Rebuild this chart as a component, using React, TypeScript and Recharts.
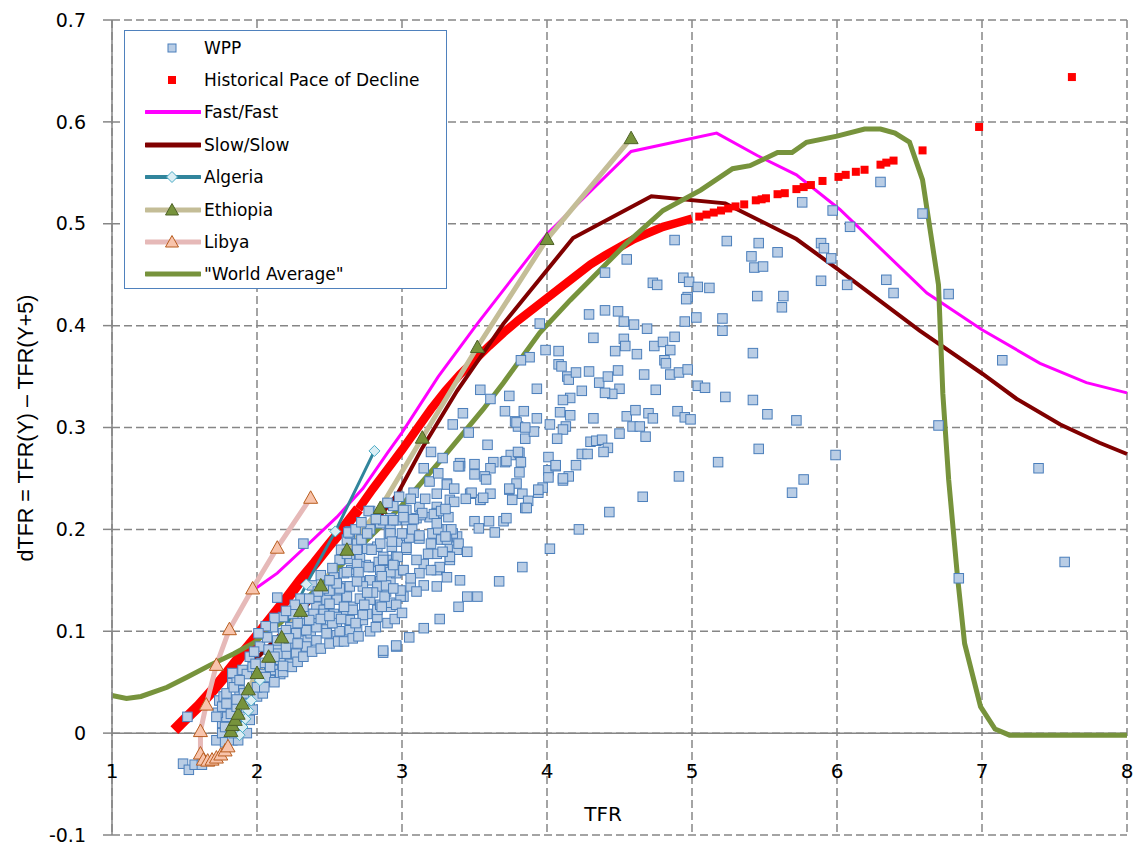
import React from "react";
import {
  ComposedChart,
  Line,
  Scatter,
  XAxis,
  YAxis,
  CartesianGrid,
  ReferenceLine,
} from "recharts";

type Pt = [number, number];

const xTicks = [1, 2, 3, 4, 5, 6, 7, 8];
const yTicks = [-0.1, 0, 0.1, 0.2, 0.3, 0.4, 0.5, 0.6, 0.7];

// WPP country observations (TFR, dTFR)
const wppPoints: Pt[] = [
  [1.49, -0.03], [1.53, -0.036], [1.57, -0.031], [1.62, -0.031], [1.52, 0.016],
  [1.72, -0.007], [1.76, 0.0], [1.78, -0.009], [1.83, -0.007], [1.81, 0.006],
  [1.76, 0.01], [1.79, 0.016], [1.73, 0.02], [1.74, 0.032], [1.78, 0.006],
  [1.72, 0.016], [1.76, 0.026], [1.77, 0.036], [1.79, 0.029], [1.82, 0.019],
  [1.86, 0.026], [1.88, 0.01], [1.92, 0.016], [1.95, 0.013], [1.93, 0.0],
  [1.87, -0.007], [1.84, 0.0], [1.79, 0.039], [1.83, 0.049], [1.86, 0.052],
  [1.88, 0.042], [1.84, 0.045], [1.91, 0.039], [1.86, 0.033], [1.9, 0.062],
  [1.83, 0.059], [1.95, 0.029], [1.97, 0.023], [2.0, 0.036], [2.04, 0.039],
  [2.02, 0.049], [2.04, 0.058], [2.09, 0.052], [2.0, 0.045], [1.97, 0.062],
  [2.03, 0.069], [2.1, 0.065], [2.11, 0.062], [2.16, 0.058], [1.93, 0.058],
  [1.88, 0.052], [1.97, 0.065], [1.95, 0.075], [2.02, 0.085], [2.07, 0.094],
  [2.11, 0.104], [2.14, 0.084], [2.16, 0.072], [2.23, 0.068], [2.2, 0.078],
  [2.27, 0.078], [2.25, 0.088], [2.14, 0.091], [2.18, 0.098], [2.23, 0.104],
  [2.3, 0.1], [2.35, 0.091], [2.37, 0.098], [2.41, 0.108], [2.48, 0.104],
  [2.3, 0.111], [2.34, 0.117], [2.41, 0.124], [2.48, 0.134], [2.55, 0.137],
  [2.62, 0.144], [2.14, 0.133], [2.32, 0.186], [1.99, 0.068], [2.09, 0.065],
  [2.06, 0.055], [2.14, 0.078], [2.2, 0.085], [2.34, 0.085], [2.41, 0.091],
  [2.48, 0.098], [2.55, 0.096], [2.62, 0.098], [2.69, 0.101], [2.73, 0.111],
  [2.64, 0.111], [2.55, 0.108], [2.48, 0.111], [2.41, 0.104], [2.34, 0.101],
  [2.27, 0.098], [2.2, 0.101], [2.18, 0.114], [2.25, 0.117], [2.32, 0.124],
  [2.39, 0.117], [2.46, 0.121], [2.53, 0.117], [2.6, 0.121], [2.66, 0.124],
  [2.76, 0.117], [2.83, 0.114], [2.78, 0.131], [2.71, 0.132], [2.62, 0.134],
  [2.55, 0.131], [2.48, 0.131], [2.41, 0.134], [2.5, 0.14], [2.57, 0.142],
  [2.64, 0.144], [2.71, 0.149], [2.78, 0.15], [2.85, 0.149], [2.92, 0.15],
  [2.96, 0.157], [2.87, 0.16], [2.8, 0.163], [2.75, 0.165], [2.65, 0.16],
  [2.6, 0.157], [2.53, 0.153], [2.57, 0.17], [2.64, 0.171], [2.71, 0.173],
  [2.84, 0.168], [2.91, 0.17], [2.96, 0.173], [2.83, 0.183], [2.76, 0.181],
  [2.69, 0.186], [2.62, 0.19], [2.64, 0.196], [2.78, 0.2], [2.92, 0.2],
  [2.96, 0.209], [3.03, 0.219], [3.1, 0.211], [3.19, 0.212], [3.24, 0.222],
  [3.33, 0.229], [3.47, 0.235], [3.54, 0.229], [3.61, 0.235], [3.03, 0.19],
  [3.12, 0.191], [3.22, 0.196], [3.31, 0.2], [3.38, 0.193], [3.33, 0.183],
  [3.24, 0.176], [3.15, 0.166], [3.24, 0.16], [3.31, 0.153], [3.4, 0.15],
  [3.45, 0.134], [3.24, 0.144], [3.06, 0.144], [3.01, 0.134], [2.92, 0.124],
  [2.83, 0.121], [2.87, 0.079], [2.96, 0.085], [3.05, 0.094], [3.15, 0.103],
  [3.26, 0.112], [3.39, 0.124], [3.52, 0.134], [3.67, 0.149], [3.83, 0.163],
  [4.02, 0.181], [4.22, 0.2], [4.43, 0.217], [4.66, 0.232], [4.91, 0.252],
  [5.18, 0.266], [5.46, 0.279], [2.64, 0.101], [2.57, 0.1], [2.73, 0.116],
  [2.85, 0.126], [2.92, 0.128], [2.99, 0.134], [2.89, 0.139], [2.83, 0.144],
  [2.73, 0.144], [2.69, 0.149], [2.55, 0.147], [2.62, 0.158], [2.69, 0.166],
  [2.77, 0.163], [2.85, 0.16], [2.92, 0.158], [3.01, 0.16], [2.95, 0.166],
  [2.87, 0.173], [3.03, 0.18], [2.97, 0.188], [2.91, 0.196], [2.85, 0.186],
  [2.79, 0.18], [2.72, 0.19], [2.64, 0.198], [3.03, 0.194], [3.03, 0.209],
  [3.01, 0.219], [2.78, 0.218], [2.85, 0.206], [2.92, 0.211], [2.69, 0.18],
  [2.76, 0.196], [2.63, 0.197], [2.77, 0.218], [2.94, 0.223], [3.12, 0.222],
  [3.13, 0.214], [3.01, 0.212], [3.24, 0.216], [3.21, 0.196], [3.05, 0.192],
  [2.97, 0.173], [3.27, 0.19], [3.35, 0.196], [2.66, 0.121], [2.6, 0.124],
  [2.5, 0.127], [2.46, 0.117], [2.55, 0.114], [2.64, 0.111], [2.87, 0.081],
  [2.96, 0.086], [2.87, 0.17], [2.94, 0.165], [3.01, 0.16], [3.12, 0.157],
  [3.15, 0.145], [3.1, 0.139], [2.99, 0.14], [2.89, 0.145], [2.86, 0.124],
  [2.96, 0.126], [3.03, 0.182], [3.07, 0.2], [3.12, 0.194], [3.22, 0.215],
  [3.25, 0.2], [3.31, 0.19], [3.38, 0.18], [3.33, 0.17], [3.26, 0.163],
  [3.2, 0.16], [2.92, 0.196], [2.93, 0.183], [2.87, 0.209], [2.94, 0.209],
  [3.08, 0.236], [3.14, 0.216], [3.19, 0.247], [3.31, 0.245], [3.4, 0.265],
  [3.2, 0.276], [3.28, 0.27], [3.4, 0.262], [3.5, 0.264], [3.63, 0.266],
  [3.71, 0.266], [3.75, 0.273], [3.81, 0.275], [3.82, 0.266], [3.81, 0.256],
  [3.79, 0.245], [3.74, 0.239], [3.83, 0.235], [3.94, 0.236], [3.87, 0.228],
  [3.85, 0.221], [4.01, 0.271], [4.01, 0.258], [4.01, 0.251], [4.06, 0.262],
  [4.11, 0.248], [4.15, 0.252], [3.97, 0.241], [3.76, 0.229], [3.61, 0.26],
  [3.57, 0.252], [3.54, 0.229], [3.56, 0.231], [3.48, 0.236], [3.44, 0.23],
  [3.58, 0.249], [3.5, 0.254], [3.39, 0.262], [3.31, 0.244], [3.36, 0.227],
  [3.27, 0.218], [3.24, 0.206], [3.32, 0.212], [3.34, 0.2], [3.3, 0.193],
  [3.33, 0.173], [3.28, 0.178], [3.39, 0.186], [3.45, 0.178], [3.5, 0.208],
  [3.53, 0.201], [3.6, 0.208], [3.64, 0.197], [3.7, 0.208], [3.72, 0.211],
  [3.86, 0.221], [3.74, 0.24], [3.72, 0.267], [3.8, 0.276], [3.85, 0.289],
  [3.91, 0.296], [3.78, 0.306], [3.8, 0.301], [3.42, 0.314], [3.35, 0.303],
  [3.46, 0.295], [3.59, 0.283], [3.54, 0.337], [3.61, 0.328], [3.71, 0.316],
  [3.74, 0.331], [3.84, 0.316], [3.79, 0.305], [3.85, 0.3], [3.93, 0.309],
  [3.93, 0.338], [3.95, 0.402], [3.88, 0.369], [3.82, 0.366], [3.99, 0.376],
  [4.08, 0.375], [4.08, 0.362], [4.1, 0.36], [4.14, 0.35], [4.15, 0.347],
  [4.2, 0.354], [4.29, 0.355], [4.36, 0.344], [4.42, 0.35], [4.49, 0.356],
  [4.67, 0.352], [4.85, 0.352], [4.91, 0.354], [4.97, 0.357], [4.75, 0.337],
  [4.5, 0.338], [4.45, 0.333], [4.4, 0.334], [4.24, 0.336], [4.16, 0.329],
  [4.11, 0.327], [4.09, 0.315], [4.16, 0.312], [4.13, 0.301], [4.11, 0.298],
  [4.02, 0.303], [4.07, 0.289], [4.32, 0.309], [4.5, 0.294], [4.55, 0.311],
  [4.61, 0.317], [4.7, 0.314], [4.73, 0.309], [4.9, 0.316], [4.95, 0.31],
  [4.99, 0.308], [4.59, 0.301], [4.64, 0.301], [4.68, 0.291], [4.3, 0.286],
  [4.34, 0.287], [4.38, 0.288], [4.42, 0.28], [4.39, 0.276], [4.24, 0.274],
  [4.28, 0.274], [4.2, 0.263], [4.06, 0.263], [4.11, 0.25], [3.94, 0.239],
  [4.29, 0.411], [4.4, 0.415], [4.49, 0.414], [4.53, 0.404], [4.6, 0.401],
  [4.69, 0.397], [4.95, 0.404], [5.03, 0.408], [5.21, 0.407], [5.21, 0.395],
  [4.32, 0.388], [4.53, 0.387], [4.54, 0.38], [4.47, 0.375], [4.74, 0.38],
  [4.8, 0.384], [4.88, 0.389], [4.85, 0.376], [4.62, 0.372], [4.81, 0.366],
  [4.82, 0.363], [5.42, 0.373], [5.04, 0.341], [5.09, 0.339], [5.23, 0.33],
  [5.42, 0.327], [5.52, 0.313], [5.72, 0.307], [5.69, 0.236], [5.77, 0.249],
  [4.88, 0.484], [5.24, 0.483], [5.46, 0.481], [5.59, 0.472], [5.41, 0.468],
  [5.43, 0.457], [5.49, 0.458], [4.55, 0.465], [4.4, 0.452], [4.73, 0.442],
  [4.76, 0.44], [4.94, 0.447], [4.98, 0.443], [5.04, 0.438], [5.12, 0.437],
  [4.97, 0.428], [4.96, 0.426], [5.45, 0.429], [5.63, 0.429], [5.62, 0.418],
  [6.3, 0.541], [5.76, 0.521], [5.97, 0.513], [6.09, 0.497], [6.59, 0.51],
  [5.89, 0.481], [5.91, 0.476], [5.96, 0.466], [5.89, 0.444], [6.07, 0.44],
  [6.34, 0.445], [6.39, 0.432], [6.77, 0.431], [7.14, 0.366], [6.7, 0.302],
  [5.99, 0.273], [7.39, 0.26], [7.57, 0.168], [6.84, 0.152],
  [2.05, 0.045], [2.12, 0.05], [2.18, 0.06], [2.24, 0.065], [2.28, 0.07],
  [2.32, 0.075], [2.38, 0.08], [2.44, 0.083], [2.5, 0.088], [2.56, 0.09],
  [2.6, 0.09], [2.66, 0.093], [2.7, 0.095], [2.78, 0.1], [2.82, 0.104],
  [2.9, 0.108], [2.95, 0.112], [3.0, 0.118], [2.22, 0.093], [2.28, 0.108],
  [2.36, 0.111], [2.44, 0.112], [2.52, 0.108], [2.58, 0.112], [2.68, 0.108],
  [2.74, 0.126], [2.8, 0.138], [2.88, 0.134], [2.94, 0.142], [3.06, 0.152],
  [3.1, 0.17], [3.18, 0.176], [3.2, 0.186], [2.46, 0.142], [2.52, 0.162],
  [2.58, 0.18], [2.68, 0.2], [2.72, 0.207], [2.82, 0.21], [2.9, 0.226],
  [2.98, 0.232], [3.06, 0.23], [2.44, 0.155], [2.38, 0.145], [2.3, 0.132],
  [2.26, 0.126], [2.2, 0.12], [2.12, 0.113], [2.06, 0.105], [2.01, 0.098],
  [1.98, 0.08], [2.08, 0.082], [2.12, 0.075], [2.18, 0.066], [2.28, 0.088],
  [2.5, 0.115], [2.42, 0.139], [2.36, 0.132], [2.62, 0.176], [2.5, 0.15],
  [2.7, 0.158], [2.76, 0.138], [2.86, 0.154], [2.93, 0.188], [3.0, 0.196],
  [3.08, 0.21], [3.16, 0.23], [3.24, 0.235], [3.3, 0.22], [3.36, 0.24],
  [3.15, 0.26], [3.25, 0.255],
];

// Historical pace of decline: the dense run, then the separate points
const histLow: Pt[] = [
  [1.43, 0.003], [1.5, 0.013], [1.6, 0.027], [1.7, 0.043], [1.8, 0.06],
  [1.9, 0.078], [2.0, 0.095], [2.1, 0.113], [2.2, 0.131], [2.3, 0.15],
  [2.4, 0.167], [2.5, 0.185], [2.6, 0.202], [2.7, 0.22],
];
const histHigh: Pt[] = [
  [2.7, 0.22], [2.8, 0.24], [2.9, 0.259], [3.0, 0.278], [3.1, 0.298],
  [3.2, 0.318], [3.3, 0.336], [3.4, 0.352], [3.5, 0.366], [3.6, 0.38],
  [3.7, 0.393], [3.8, 0.405], [3.9, 0.416], [4.0, 0.427], [4.1, 0.438],
  [4.2, 0.449], [4.3, 0.46], [4.4, 0.469], [4.5, 0.477], [4.6, 0.485],
  [4.7, 0.491], [4.8, 0.497], [4.9, 0.501], [5.0, 0.505],
];
const histPoints: Pt[] = [
  [5.05, 0.507], [5.1, 0.509], [5.15, 0.511], [5.2, 0.513], [5.25, 0.515],
  [5.3, 0.517], [5.36, 0.519], [5.44, 0.523], [5.48, 0.524], [5.51, 0.525],
  [5.59, 0.529], [5.64, 0.53], [5.72, 0.534], [5.77, 0.536], [5.82, 0.538],
  [5.9, 0.542], [6.01, 0.546], [6.06, 0.548], [6.13, 0.551], [6.19, 0.553],
  [6.3, 0.558], [6.34, 0.56], [6.39, 0.562], [6.59, 0.572], [6.98, 0.595],
  [7.62, 0.644],
];

const fastFast: Pt[] = [
  [2.0, 0.143], [2.14, 0.157], [2.32, 0.181], [2.55, 0.212], [2.73, 0.24],
  [2.9, 0.275], [3.0, 0.295], [3.25, 0.35], [3.52, 0.402], [4.0, 0.49],
  [4.58, 0.571], [5.17, 0.589], [5.45, 0.567], [5.72, 0.548], [6.02, 0.514],
  [6.62, 0.432], [7.0, 0.396], [7.4, 0.363], [7.72, 0.344], [8.0, 0.334],
];

const slowSlow: Pt[] = [
  [1.99, 0.072], [2.3, 0.118], [2.62, 0.172], [2.97, 0.235], [3.14, 0.28],
  [3.38, 0.336], [3.7, 0.402], [4.18, 0.486], [4.72, 0.527], [5.23, 0.52],
  [5.47, 0.503], [5.72, 0.485], [6.0, 0.456], [6.57, 0.395], [7.0, 0.353],
  [7.24, 0.328], [7.54, 0.303], [7.81, 0.285], [8.0, 0.274],
];

const algeria: Pt[] = [
  [1.88, -0.002], [1.9, 0.006], [1.92, 0.014], [1.94, 0.022], [1.96, 0.032],
  [2.02, 0.052], [2.34, 0.146], [2.54, 0.198], [2.81, 0.277],
];

const ethiopia: Pt[] = [
  [1.82, 0.002], [1.83, 0.008], [1.85, 0.013], [1.87, 0.019], [1.9, 0.029],
  [1.94, 0.043], [2.0, 0.059], [2.08, 0.075], [2.17, 0.094], [2.3, 0.12],
  [2.44, 0.145], [2.62, 0.18], [2.85, 0.221], [3.14, 0.29], [3.52, 0.379],
  [4.0, 0.485], [4.58, 0.584],
];

const libya: Pt[] = [
  [2.37, 0.231], [2.14, 0.182], [1.97, 0.142], [1.81, 0.102], [1.72, 0.067],
  [1.65, 0.028], [1.61, 0.002], [1.61, -0.02], [1.63, -0.026], [1.66, -0.027],
  [1.69, -0.026], [1.72, -0.024], [1.75, -0.021], [1.78, -0.017], [1.8, -0.013],
];

const worldAverage: Pt[] = [
  [1.0, 0.037], [1.1, 0.034], [1.2, 0.036], [1.38, 0.045], [1.52, 0.055],
  [1.68, 0.067], [1.84, 0.078], [1.97, 0.088], [2.16, 0.108], [2.46, 0.148],
  [2.71, 0.183], [2.99, 0.222], [3.28, 0.27], [3.56, 0.318], [3.7, 0.344],
  [3.95, 0.393], [4.16, 0.425], [4.3, 0.445], [4.55, 0.481], [4.8, 0.513],
  [5.06, 0.533], [5.28, 0.554], [5.4, 0.557], [5.59, 0.57], [5.69, 0.57],
  [5.79, 0.58], [6.0, 0.586], [6.19, 0.593], [6.3, 0.593], [6.4, 0.589],
  [6.5, 0.58], [6.59, 0.543], [6.7, 0.44], [6.73, 0.333], [6.77, 0.249],
  [6.83, 0.155], [6.88, 0.088], [6.99, 0.026], [7.09, 0.004], [7.19, -0.002],
  [8.0, -0.002],
];

const toXY = (arr: Pt[]) => arr.map(([x, y]) => ({ x, y }));

const GRID = "#868686";

const square = (size: number, fill: string, stroke?: string) => (p: any) => (
  <rect
    x={p.cx - size / 2}
    y={p.cy - size / 2}
    width={size}
    height={size}
    fill={fill}
    stroke={stroke || "none"}
    strokeWidth={1}
  />
);

const triangle = (fill: string, stroke: string) => (p: any) => (
  <path
    key={`t-${p.index}`}
    d={`M${p.cx},${p.cy - 7} L${p.cx + 7},${p.cy + 5.5} L${p.cx - 7},${p.cy + 5.5} Z`}
    fill={fill}
    stroke={stroke}
    strokeWidth={1}
  />
);

const diamond = (p: any) => (
  <path
    key={`d-${p.index}`}
    d={`M${p.cx},${p.cy - 5.5} L${p.cx + 5.5},${p.cy} L${p.cx},${p.cy + 5.5} L${p.cx - 5.5},${p.cy} Z`}
    fill="#DBEEF4"
    stroke="#4BACC6"
    strokeWidth={1}
  />
);

// x labels sit just under the zero line, not at the bottom of the plot
const XTick = (props: any) => (
  <text
    x={props.x}
    y={props.y - 57}
    textAnchor="middle"
    fontFamily="DejaVu Sans"
    fontSize={20}
    fill="#000"
  >
    {props.payload.value}
  </text>
);

const legendItems = [
  { name: "WPP", kind: "wpp" },
  { name: "Historical Pace of Decline", kind: "hist" },
  { name: "Fast/Fast", kind: "line", color: "#FF00FF", w: 4 },
  { name: "Slow/Slow", kind: "line", color: "#800000", w: 5 },
  { name: "Algeria", kind: "algeria", color: "#31859C", w: 4 },
  { name: "Ethiopia", kind: "ethiopia", color: "#C4BD97", w: 5 },
  { name: "Libya", kind: "libya", color: "#E6B9B8", w: 5 },
  { name: '"World Average"', kind: "line", color: "#77933C", w: 5 },
];

const LegendMarker = ({ item }: { item: any }) => {
  const c = 27;
  return (
    <svg width={56} height={20}>
      {item.color && (
        <line x1={1} y1={10} x2={55} y2={10} stroke={item.color} strokeWidth={item.w} strokeLinecap="round" />
      )}
      {item.kind === "wpp" && (
        <rect x={c - 4} y={6} width={8} height={8} fill="#B9CDE5" stroke="#4A7EBB" />
      )}
      {item.kind === "hist" && <rect x={c - 4} y={6} width={8} height={8} fill="#FF0000" />}
      {item.kind === "algeria" && (
        <path d={`M${c},4.5 L${c + 5.5},10 L${c},15.5 L${c - 5.5},10 Z`} fill="#DBEEF4" stroke="#4BACC6" />
      )}
      {item.kind === "ethiopia" && (
        <path d={`M${c},3.5 L${c + 6.5},15 L${c - 6.5},15 Z`} fill="#77933C" stroke="#4F6228" />
      )}
      {item.kind === "libya" && (
        <path d={`M${c},3.5 L${c + 6.5},15 L${c - 6.5},15 Z`} fill="#F8C4AC" stroke="#B85C1E" />
      )}
    </svg>
  );
};

export default function App() {
  return (
    <div style={{ position: "absolute", left: 0, top: 0, width: 1134, height: 846 }}>
      <ComposedChart
        width={1134}
        height={846}
        margin={{ top: 20, right: 7, bottom: 0, left: 0 }}
      >
        <CartesianGrid stroke={GRID} strokeWidth={1.5} strokeDasharray="8 4" />
        <XAxis
          dataKey="x"
          type="number"
          domain={[1, 8]}
          ticks={xTicks}
          height={11}
          axisLine={false}
          tickLine={false}
          tickSize={0}
          tickMargin={0}
          tick={<XTick />}
          interval={0}
        />
        <YAxis
          dataKey="y"
          type="number"
          domain={[-0.1, 0.7]}
          ticks={yTicks}
          width={112}
          interval={0}
          axisLine={{ stroke: GRID, strokeWidth: 1.5 }}
          tickLine={{ stroke: GRID, strokeWidth: 1.5 }}
          tickSize={9}
          tickMargin={17}
          tick={{ fontFamily: "DejaVu Sans", fontSize: 19, fill: "#000" }}
          tickFormatter={(v: number) => (v === 0 ? "0" : v.toFixed(1))}
        />
        <ReferenceLine y={0} stroke={GRID} strokeWidth={1.5} />
        <Scatter
          name="WPP"
          data={toXY(wppPoints)}
          dataKey="y"
          shape={square(9.5, "#B9CDE5", "#4A7EBB")}
          isAnimationActive={false}
        />
        <Line
          data={toXY(histLow)}
          dataKey="y"
          type="linear"
          stroke="#FF0000"
          strokeWidth={11}
          strokeLinecap="butt"
          dot={false}
          activeDot={false}
          isAnimationActive={false}
        />
        <Line
          data={toXY(histHigh)}
          dataKey="y"
          type="linear"
          stroke="#FF0000"
          strokeWidth={8.5}
          strokeLinecap="butt"
          dot={false}
          activeDot={false}
          isAnimationActive={false}
        />
        <Scatter
          name="Historical Pace of Decline"
          data={toXY(histPoints)}
          dataKey="y"
          shape={square(8, "#FF0000")}
          isAnimationActive={false}
        />
        <Line
          data={toXY(fastFast)}
          dataKey="y"
          type="linear"
          stroke="#FF00FF"
          strokeWidth={3}
          dot={false}
          activeDot={false}
          isAnimationActive={false}
        />
        <Line
          data={toXY(slowSlow)}
          dataKey="y"
          type="linear"
          stroke="#800000"
          strokeWidth={4}
          dot={false}
          activeDot={false}
          isAnimationActive={false}
        />
        <Line
          data={toXY(algeria)}
          dataKey="y"
          type="linear"
          stroke="#31859C"
          strokeWidth={3}
          dot={diamond}
          activeDot={false}
          isAnimationActive={false}
        />
        <Line
          data={toXY(ethiopia)}
          dataKey="y"
          type="linear"
          stroke="#C4BD97"
          strokeWidth={5}
          dot={triangle("#77933C", "#4F6228")}
          activeDot={false}
          isAnimationActive={false}
        />
        <Line
          data={toXY(libya)}
          dataKey="y"
          type="linear"
          stroke="#E6B9B8"
          strokeWidth={5}
          dot={triangle("#F8C4AC", "#B85C1E")}
          activeDot={false}
          isAnimationActive={false}
        />
        <Line
          data={toXY(worldAverage)}
          dataKey="y"
          type="linear"
          stroke="#77933C"
          strokeWidth={5}
          dot={false}
          activeDot={false}
          isAnimationActive={false}
        />
        <text
          x={603}
          y={821}
          textAnchor="middle"
          fontFamily="DejaVu Sans"
          fontSize={20}
          fill="#000"
        >
          TFR
        </text>
        <text
          x={33}
          y={428}
          transform="rotate(-90 33 428)"
          textAnchor="middle"
          fontFamily="Liberation Sans"
          fontSize={21.5}
          fill="#000"
        >
          dTFR = TFR(Y) – TFR(Y+5)
        </text>
      </ComposedChart>

      <div
        style={{
          position: "absolute",
          left: 124,
          top: 30,
          width: 321,
          height: 257,
          background: "#fff",
          border: "1.5px solid #4F81BD",
          fontFamily: "DejaVu Sans",
          fontSize: 17,
          color: "#000",
        }}
      >
        {legendItems.map((item, i) => (
          <div
            key={item.name}
            style={{
              position: "absolute",
              left: 20,
              top: 16.5 + i * 32.4 - 10,
              height: 20,
              display: "flex",
              alignItems: "center",
              whiteSpace: "nowrap",
            }}
          >
            <LegendMarker item={item} />
            <span style={{ marginLeft: 3 }}>{item.name}</span>
          </div>
        ))}
      </div>
    </div>
  );
}
